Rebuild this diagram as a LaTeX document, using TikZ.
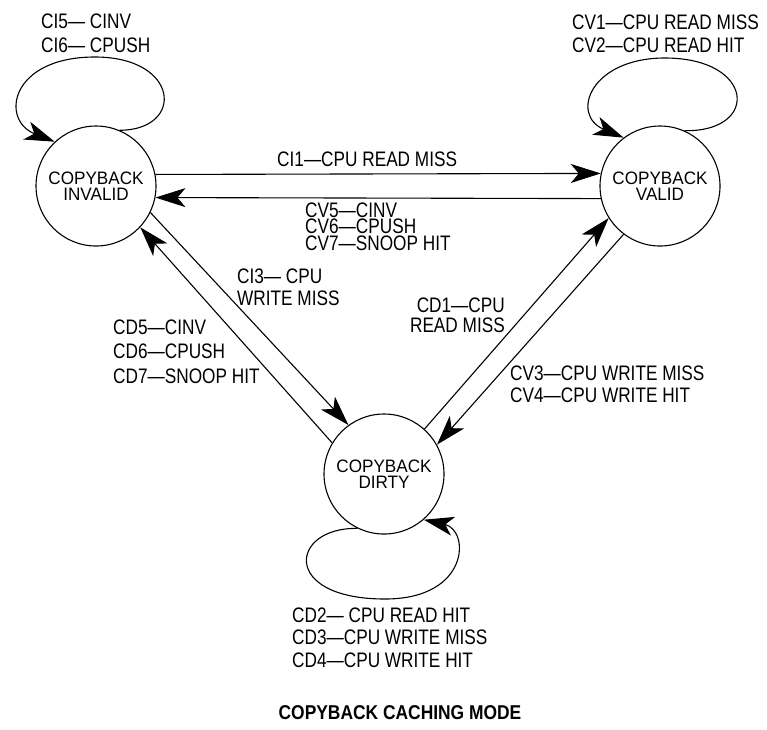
\documentclass[tikz,border=0pt]{standalone}
\usepackage{fontspec}
\setmainfont{Liberation Sans}[FakeStretch=0.82]
\newfontfamily\circfont{Liberation Sans}[FakeStretch=0.95]
\newfontfamily\ttlfont{Liberation Sans}[FakeStretch=0.87]
\usetikzlibrary{arrows.meta}
\begin{document}
\begin{tikzpicture}[x=1pt,y=-1pt,
  state/.style={circle,draw,line width=1.1pt,minimum size=120pt,inner sep=0pt,align=center,font=\circfont\fontsize{18}{16}\selectfont},
  lbl/.style={anchor=base west,inner sep=0pt,font=\fontsize{21}{24}\selectfont},
  lblr/.style={lbl,anchor=base east},
  conn/.style={line width=1.1pt,-{Stealth[length=30pt,width=19pt,inset=8pt]}}]
\useasboundingbox (0,0) rectangle (767,729);
% states
\node[state] (inv) at (96,186) {COPYBACK\\INVALID};
\node[state] (val) at (660,186) {COPYBACK\\VALID};
\node[state] (dir) at (384,474) {COPYBACK\\DIRTY};
% transitions
\draw[conn] (inv.11.5) -- (val.168.5);
\draw[conn] (val.-168.5) -- (inv.-11.5);
\draw[conn] (inv.-26.6) -- (dir.126.5);
\draw[conn] (dir.149.2) -- (inv.-43);
\draw[conn] (dir.48.8) -- (val.-148.2);
\draw[conn] (val.-127.6) -- (dir.29.9);
% self loops
\draw[conn] (inv.67) .. controls (185,130) and (180,57) .. (95,57) .. controls (10,57) and (0,120) .. (inv.133);
\draw[conn] (val.66) .. controls (760,132) and (755,58) .. (665,58) .. controls (590,58) and (570,115) .. (val.127.6);
\draw[conn] (dir.-116) .. controls (290,527) and (280,599) .. (385,599) .. controls (470,599) and (470,530) .. (dir.-49.3);
% labels
\node[lbl] (ci5) at (41,28) {CI5— CINV};
\node[lbl] (ci6) at (41,52) {CI6— CPUSH};
\node[lbl] (cv1) at (572,29) {CV1—CPU READ MISS};
\node[lbl] (cv2) at (572,52) {CV2—CPU READ HIT};
\node[lbl] (ci1) at (277,166) {CI1—CPU READ MISS};
\node[lbl] (cv5) at (305,217) {CV5—CINV};
\node[lbl] (cv6) at (305,233) {CV6—CPUSH};
\node[lbl] (cv7) at (305,250) {CV7—SNOOP HIT};
\node[lbl] (ci3a) at (237,283) {CI3— CPU};
\node[lbl] (ci3b) at (237,305) {WRITE MISS};
\node[lblr] (cd1a) at (505,312) {CD1—CPU};
\node[lblr] (cd1b) at (505,332) {READ MISS};
\node[lbl] (cv3) at (510,380) {CV3—CPU WRITE MISS};
\node[lbl] (cv4) at (510,402) {CV4—CPU WRITE HIT};
\node[lbl] (cd5) at (113,334) {CD5—CINV};
\node[lbl] (cd6) at (113,358) {CD6—CPUSH};
\node[lbl] (cd7) at (113,383) {CD7—SNOOP HIT};
\node[lbl] (cd2) at (292,622) {CD2— CPU READ HIT};
\node[lbl] (cd3) at (292,644) {CD3—CPU WRITE MISS};
\node[lbl] (cd4) at (292,667) {CD4—CPU WRITE HIT};
\node[anchor=base,inner sep=0pt,font=\ttlfont\bfseries\fontsize{20}{24}\selectfont] (ttl) at (400,719) {COPYBACK CACHING MODE};
\end{tikzpicture}
\end{document}
